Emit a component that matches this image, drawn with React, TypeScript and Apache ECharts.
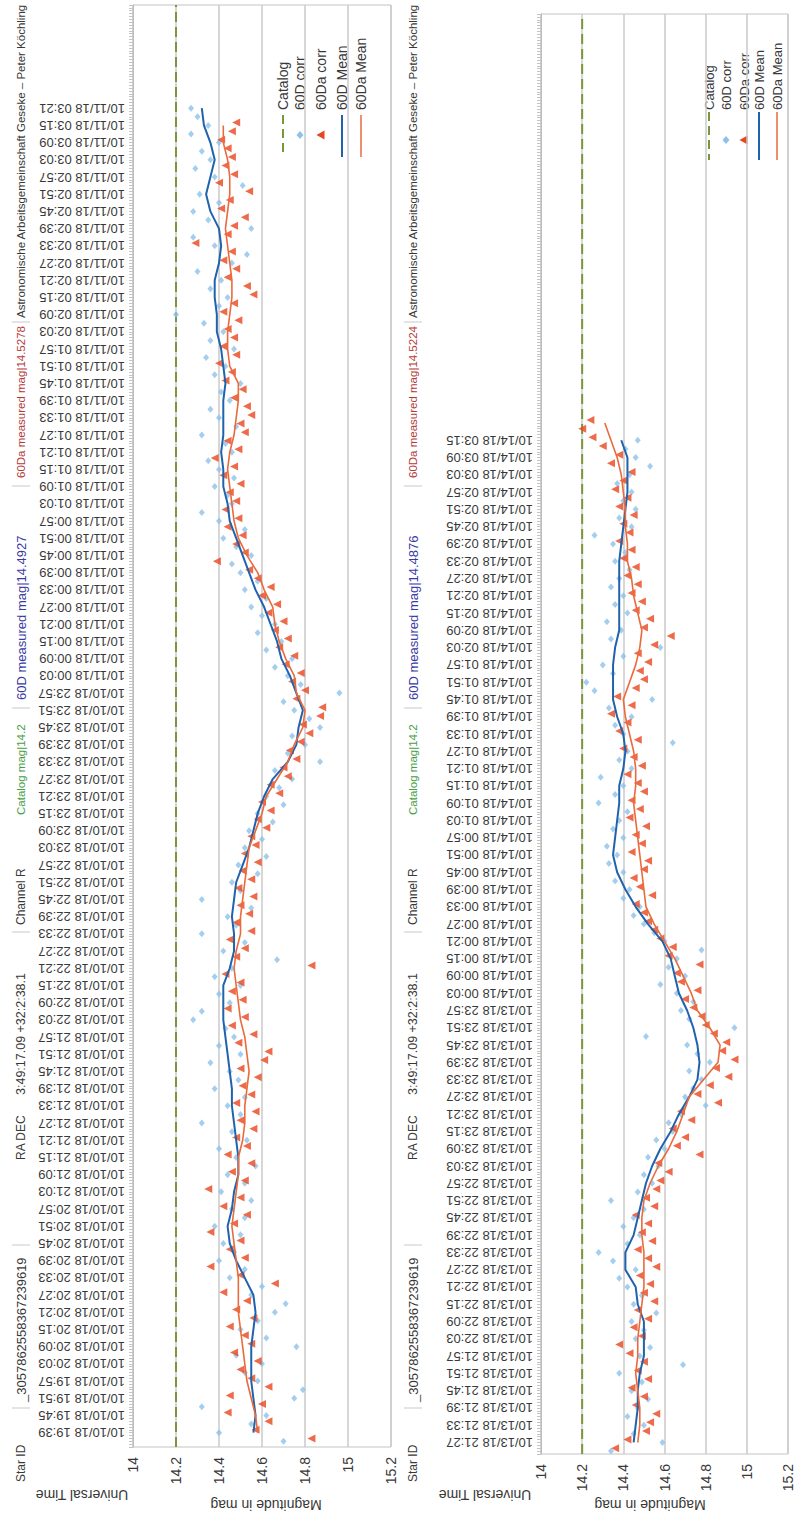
import React, { useEffect, useRef } from "react";
import * as echarts from "echarts";

const FONT = "'Liberation Sans', Arial, Helvetica, sans-serif";

// ---------------- data ----------------
const catalogMag = 14.2;
const legendNames = ["Catalog", "60D corr", "60Da corr", "60D Mean", "60Da Mean"];
const headerTexts1 = [
  "Star ID",
  "_3057862558367239619",
  "RA DEC",
  "3:49:17.09 +32:2:38.1",
  "Channel R",
  "Catalog mag|14.2",
  "60D measured mag|14.4927",
  "60Da measured mag|14.5278",
  "Astronomische Arbeitsgemeinschaft Geseke – Peter Köchling",
];
const headerTexts2 = [
  "Star ID",
  "_3057862558367239619",
  "RA DEC",
  "3:49:17.09 +32:2:38.1",
  "Channel R",
  "Catalog mag|14.2",
  "60D measured mag|14.4876",
  "60Da measured mag|14.5224",
  "Astronomische Arbeitsgemeinschaft Geseke – Peter Köchling",
];
const timeAxisName = "Universal Time";
const magAxisName = "Magnitude in mag";

function makeTimeLabels(month: number, day: number, startMin: number, count: number) {
  const out: string[] = [];
  for (let i = 0; i < count; i++) {
    let m = startMin + i * 6;
    let d = day;
    if (m >= 1440) { m -= 1440; d += 1; }
    const hh = String(Math.floor(m / 60)).padStart(2, "0");
    const mm = String(m % 60).padStart(2, "0");
    out.push(`${month}/${d}/18 ${hh}:${mm}`);
  }
  return out;
}
// chart 1: minutes after 10/10/18 19:39 ; chart 2: minutes after 10/13/18 21:27
const timeLabels1 = makeTimeLabels(10, 10, 19 * 60 + 39, 78);
const timeLabels2 = makeTimeLabels(10, 13, 21 * 60 + 27, 59);

// Chart 1 – 60D corr (every 3 min from t=-3)
const obs60D_1 = [
  14.70, 14.40, 14.55, 14.62, 14.32, 14.75, 14.79, 14.58, 14.52, 14.60,
  14.48, 14.76, 14.62, 14.50, 14.58, 14.66, 14.71, 14.55, 14.60, 14.45,
  14.52, 14.40, 14.47, 14.42, 14.50, 14.38, 14.52, 14.46, 14.55, 14.41,
  14.52, 14.44, 14.57, 14.48, 14.40, 14.53, 14.46, 14.32, 14.50, 14.44,
  14.52, 14.38, 14.49, 14.45, 14.36, 14.50, 14.40, 14.47, 14.43, 14.28,
  14.32, 14.45, 14.40, 14.50, 14.38, 14.46, 14.67, 14.42, 14.52, 14.32,
  14.48, 14.44, 14.55, 14.32, 14.50, 14.46, 14.58, 14.49, 14.62, 14.52,
  14.60, 14.54, 14.65, 14.58, 14.70, 14.62, 14.68, 14.74, 14.66, 14.87,
  14.72, 14.80, 14.74, 14.87, 14.82, 14.75, 14.70, 14.96, 14.78, 14.72,
  14.66, 14.74, 14.62, 14.69, 14.58, 14.66, 14.60, 14.55, 14.62, 14.52,
  14.58, 14.50, 14.46, 14.55, 14.48, 14.42, 14.52, 14.40, 14.32, 14.46,
  14.44, 14.38, 14.47, 14.40, 14.35, 14.46, 14.43, 14.32, 14.48, 14.40,
  14.36, 14.45, 14.41, 14.50, 14.38, 14.43, 14.34, 14.47, 14.36, 14.42,
  14.33, 14.20, 14.40, 14.44, 14.36, 14.41, 14.30, 14.46, 14.53, 14.38,
  14.28, 14.55, 14.35, 14.28, 14.40, 14.31, 14.51, 14.38, 14.29, 14.36,
  14.32, 14.40, 14.27, 14.35, 14.30, 14.27,
];
// Chart 1 – 60Da corr (every 3 min from t=-2)
const obs60Da_1 = [
  14.83, 14.57, 14.63, 14.44, 14.60, 14.45, 14.63, 14.55, 14.50, 14.58,
  14.47, 14.55, 14.52, 14.45, 14.56, 14.48, 14.53, 14.42, 14.66, 14.50,
  14.36, 14.52, 14.45, 14.50, 14.36, 14.47, 14.53, 14.42, 14.50, 14.35,
  14.52, 14.46, 14.55, 14.44, 14.53, 14.48, 14.56, 14.50, 14.57, 14.48,
  14.55, 14.51, 14.58, 14.50, 14.61, 14.63, 14.49, 14.56, 14.46, 14.52,
  14.44, 14.51, 14.46, 14.50, 14.43, 14.83, 14.48, 14.52, 14.45, 14.55,
  14.48, 14.54, 14.50, 14.56, 14.49, 14.55, 14.51, 14.58, 14.52, 14.57,
  14.55, 14.62, 14.58, 14.64, 14.60, 14.68, 14.64, 14.72, 14.70, 14.76,
  14.73, 14.78, 14.82, 14.79, 14.87, 14.88, 14.76, 14.80, 14.74, 14.78,
  14.71, 14.75, 14.68, 14.72, 14.66, 14.70, 14.63, 14.67, 14.60, 14.64,
  14.58, 14.54, 14.39, 14.52, 14.48, 14.51, 14.44, 14.49, 14.43, 14.48,
  14.45, 14.50, 14.42, 14.47, 14.38, 14.49, 14.44, 14.52, 14.50, 14.55,
  14.53, 14.47, 14.51, 14.43, 14.46, 14.40, 14.48, 14.42, 14.47, 14.44,
  14.49, 14.42, 14.47, 14.56, 14.53, 14.44, 14.48, 14.42, 14.46, 14.29,
  14.44, 14.47, 14.52, 14.41, 14.45, 14.54, 14.40, 14.47, 14.43, 14.46,
  14.44, 14.41, 14.46, 14.48,
];
// Chart 1 – running means (every 6 min from t=0)
const mean60D_1 = [
  14.56, 14.57, 14.56, 14.55, 14.55, 14.55, 14.56, 14.57, 14.56, 14.52,
  14.48, 14.45, 14.44, 14.46, 14.47, 14.49, 14.49, 14.48, 14.47, 14.46,
  14.46, 14.45, 14.44, 14.43, 14.42, 14.42, 14.42, 14.45, 14.47, 14.47,
  14.46, 14.47, 14.48, 14.51, 14.54, 14.56, 14.58, 14.61, 14.65, 14.72,
  14.76, 14.77, 14.79, 14.76, 14.73, 14.69, 14.67, 14.64, 14.61, 14.57,
  14.54, 14.51, 14.48, 14.45, 14.44, 14.42, 14.42, 14.41, 14.42, 14.42,
  14.42, 14.43, 14.42, 14.41, 14.39, 14.39, 14.38, 14.38, 14.40, 14.41,
  14.40, 14.36, 14.34, 14.36, 14.38, 14.36, 14.33, 14.32,
];
const mean60Da_1 = [
  14.58, 14.57, 14.55, 14.53, 14.52, 14.51, 14.50, 14.49, 14.49, 14.49,
  14.48, 14.47, 14.46, 14.47, 14.48, 14.49, 14.49, 14.51, 14.52, 14.52,
  14.53, 14.54, 14.53, 14.52, 14.50, 14.49, 14.48, 14.47, 14.48, 14.50,
  14.50, 14.51, 14.52, 14.53, 14.54, 14.57, 14.60, 14.62, 14.67, 14.72,
  14.75, 14.79, 14.80, 14.76, 14.75, 14.71, 14.68, 14.66, 14.65, 14.61,
  14.58, 14.53, 14.49, 14.47, 14.46, 14.45, 14.44, 14.45, 14.47, 14.48,
  14.49, 14.49, 14.45, 14.44, 14.44, 14.45, 14.46, 14.46, 14.45, 14.44,
  14.43, 14.44, 14.45, 14.45, 14.44, 14.42, 14.42,
];

// Chart 2 – 60D corr (every 3 min from t=-3)
const obs60D_2 = [
  14.34, 14.59, 14.45, 14.50, 14.42, 14.47, 14.52, 14.44, 14.49, 14.38,
  14.69, 14.48, 14.53, 14.46, 14.50, 14.44, 14.56, 14.45, 14.49, 14.42,
  14.38, 14.46, 14.35, 14.28, 14.42, 14.48, 14.40, 14.45, 14.50, 14.34,
  14.47, 14.54, 14.50, 14.57, 14.52, 14.60, 14.56, 14.64, 14.62, 14.68,
  14.80, 14.70, 14.74, 14.78, 14.72, 14.82, 14.76, 14.71, 14.51, 14.94,
  14.72, 14.68, 14.74, 14.66, 14.58, 14.70, 14.62, 14.66, 14.78, 14.60,
  14.55, 14.50, 14.45, 14.48, 14.40, 14.43, 14.36, 14.40, 14.33, 14.37,
  14.32, 14.40, 14.35, 14.38, 14.42, 14.28, 14.36, 14.40, 14.29, 14.44,
  14.38, 14.42, 14.64, 14.40, 14.36, 14.44, 14.33, 14.54, 14.26, 14.22,
  14.35, 14.30, 14.40, 14.58, 14.34, 14.39, 14.32, 14.42, 14.36, 14.40,
  14.34, 14.38, 14.43, 14.36, 14.41, 14.35, 14.26, 14.44, 14.38, 14.46,
  14.40, 14.44, 14.37, 14.43, 14.53, 14.46, 14.41, 14.47,
];
// Chart 2 – 60Da corr (every 3 min from t=-2)
const obs60Da_2 = [
  14.36, 14.42, 14.51, 14.53, 14.56, 14.46, 14.50, 14.44, 14.52, 14.47,
  14.50, 14.43, 14.38, 14.49, 14.45, 14.52, 14.47, 14.55, 14.50, 14.53,
  14.48, 14.56, 14.52, 14.47, 14.54, 14.49, 14.52, 14.46, 14.55, 14.51,
  14.56, 14.58, 14.62, 14.57, 14.77, 14.66, 14.70, 14.64, 14.73, 14.68,
  14.86, 14.76, 14.82, 14.91, 14.85, 14.94, 14.88, 14.90, 14.84, 14.80,
  14.78, 14.74, 14.70, 14.76, 14.68, 14.66, 14.77, 14.62, 14.64, 14.58,
  14.55, 14.52, 14.50, 14.46, 14.54, 14.48, 14.45, 14.50, 14.52, 14.44,
  14.49, 14.46, 14.51, 14.43, 14.48, 14.44, 14.50, 14.47, 14.42, 14.49,
  14.45, 14.40, 14.47, 14.38, 14.42, 14.34, 14.44, 14.37, 14.46, 14.50,
  14.48, 14.52, 14.47, 14.55, 14.63, 14.50, 14.53, 14.46, 14.49, 14.44,
  14.47, 14.42, 14.46, 14.40, 14.44, 14.38, 14.43, 14.40, 14.45, 14.38,
  14.42, 14.36, 14.40, 14.44, 14.34, 14.38, 14.30, 14.25, 14.20, 14.24,
];
const mean60D_2 = [
  14.45, 14.46, 14.47, 14.47, 14.48, 14.50, 14.50, 14.50, 14.47, 14.46,
  14.41, 14.41, 14.45, 14.47, 14.49, 14.51, 14.54, 14.58, 14.63, 14.67,
  14.72, 14.76, 14.77, 14.76, 14.74, 14.71, 14.67, 14.65, 14.63, 14.59,
  14.52, 14.46, 14.41, 14.37, 14.35, 14.36, 14.37, 14.38, 14.38, 14.40,
  14.41, 14.40, 14.37, 14.35, 14.35, 14.35, 14.36, 14.38, 14.38, 14.38,
  14.38, 14.38, 14.39, 14.40, 14.41, 14.42, 14.42, 14.42, 14.39,
];
const mean60Da_2 = [
  14.47, 14.48, 14.48, 14.47, 14.46, 14.47, 14.47, 14.48, 14.49, 14.50,
  14.50, 14.50, 14.49, 14.49, 14.50, 14.53, 14.57, 14.62, 14.66, 14.69,
  14.72, 14.79, 14.86, 14.87, 14.82, 14.76, 14.73, 14.69, 14.65, 14.60,
  14.55, 14.51, 14.50, 14.49, 14.48, 14.47, 14.46, 14.45, 14.46, 14.46,
  14.45, 14.43, 14.41, 14.40, 14.43, 14.46, 14.48, 14.49, 14.47, 14.45,
  14.44, 14.42, 14.42, 14.41, 14.41, 14.40, 14.39, 14.37, 14.34, 14.31,
];

// ---------------- helpers ----------------
const pts = (vals: number[], t0: number, step: number) => vals.map((v, i) => [v, t0 + i * step]);
const range = (a: number, b: number) => Array.from({ length: b - a + 1 }, (_, i) => a + i);

const C_CAT = "#78973a";
const C_60D = "#8ec2ea";
const C_60DA = "#e8461e";
const C_60D_MEAN = "#2063ad";
const C_60DA_MEAN = "#ea6a3c";
const TXT = "#383838";

interface Panel {
  grid: any;
  tMin: number;
  tMax: number;
  labels: string[];
  o60D: number[];
  o60Da: number[];
  m60D: number[];
  m60Da: number[];
}

const panels: Panel[] = [
  { grid: { left: 133, right: 405, top: 5, bottom: 71 }, tMin: -5, tMax: 498, labels: timeLabels1, o60D: obs60D_1, o60Da: obs60Da_1, m60D: mean60D_1, m60Da: mean60Da_1 },
  { grid: { left: 541, right: 8, top: 14, bottom: 64 }, tMin: -4, tMax: 496, labels: timeLabels2, o60D: obs60D_2, o60Da: obs60Da_2, m60D: mean60D_2, m60Da: mean60Da_2 },
];

function vText(x: number, y: number, text: string, fontSize: number, fill = TXT) {
  return {
    type: "text", x, y, rotation: Math.PI / 2, silent: true,
    style: { text, fontSize, fill, fontFamily: FONT, align: "left", verticalAlign: "middle" },
  };
}
function flipText(x: number, y: number, text: string, fontSize: number) {
  return {
    type: "text", x, y, rotation: Math.PI, silent: true,
    style: { text, fontSize, fill: TXT, fontFamily: FONT, align: "center", verticalAlign: "middle" },
  };
}
function sep(x: number, y: number) {
  return { type: "line", silent: true, shape: { x1: x - 9, y1: y, x2: x + 9, y2: y }, style: { stroke: "#c9c9c9", lineWidth: 1 } };
}

function headerGraphics(x: number, texts: string[]) {
  const starts = [1482, 1402, 1160, 1095, 925, 815, 700, 478, 318];
  const sizes = [12, 13, 12, 12.5, 12, 11.5, 13, 11.5, 11.5];
  const colors = [TXT, TXT, TXT, TXT, TXT, "#45a045", "#3a3aa6", "#b53a3a", TXT];
  const els: any[] = texts.map((t, i) => vText(x, starts[i], t, sizes[i], colors[i]));
  [1408, 1245, 932, 708, 486, 322].forEach((y) => els.push(sep(x, y)));
  return els;
}

function legendGraphics(xs: number[], yText: number, k1: number, k2: number, km: number, fs: number) {
  const els: any[] = legendNames.map((n, i) => vText(xs[i], yText, n, fs));
  els.push({ type: "line", silent: true, shape: { x1: xs[0], y1: k1, x2: xs[0], y2: k2 }, style: { stroke: C_CAT, lineWidth: 2, lineDash: [9, 5] } });
  const dx = xs[1], tx = xs[2];
  els.push({ type: "polygon", silent: true, shape: { points: [[dx, km - 4], [dx + 3.5, km], [dx, km + 4], [dx - 3.5, km]] }, style: { fill: C_60D } });
  els.push({ type: "polygon", silent: true, shape: { points: [[tx - 4.5, km], [tx + 3.5, km - 4.5], [tx + 3.5, km + 4.5]] }, style: { fill: C_60DA } });
  els.push({ type: "line", silent: true, shape: { x1: xs[3], y1: k1, x2: xs[3], y2: k2 }, style: { stroke: C_60D_MEAN, lineWidth: 2 } });
  els.push({ type: "line", silent: true, shape: { x1: xs[4], y1: k1, x2: xs[4], y2: k2 }, style: { stroke: C_60DA_MEAN, lineWidth: 1.5 } });
  return els;
}

function buildOption() {
  const grid = panels.map((p) => ({
    ...p.grid, show: true, borderColor: "#c4c4c4", borderWidth: 1, backgroundColor: "#fff",
    containLabel: false, outerBoundsMode: "none",
  }));
  const xAxis = panels.map((_, i) => ({
    type: "value", gridIndex: i, min: 14, max: 15.2, interval: 0.2, position: "bottom",
    axisLine: { show: false }, axisTick: { show: false },
    splitLine: { show: true, lineStyle: { color: "#cacaca", width: 1.5 } },
    axisLabel: {
      rotate: 90, fontSize: 14, color: TXT, margin: 10, fontFamily: FONT,
      formatter: (v: number) => String(+v.toFixed(1)),
    },
  }));
  const yAxis = panels.map((p, i) => ({
    type: "value", gridIndex: i, min: p.tMin, max: p.tMax, position: "left",
    axisLine: { show: true, lineStyle: { color: "#bcbcbc", width: 1 } },
    axisTick: { show: true, customValues: range(p.tMin, p.tMax), length: 4, inside: false, lineStyle: { color: "#c4c4c4", width: 1 } },
    axisLabel: {
      customValues: p.labels.map((_, k) => k * 6), rotate: 180, fontSize: 13, color: TXT, margin: 8, fontFamily: FONT,
      formatter: (v: number) => p.labels[Math.round(v / 6)] ?? "",
    },
    splitLine: { show: false },
  }));
  const series: any[] = [];
  panels.forEach((p, i) => {
    series.push({
      name: legendNames[0], type: "line", xAxisIndex: i, yAxisIndex: i, silent: true, symbol: "none",
      data: [[catalogMag, p.tMin], [catalogMag, p.tMax]],
      lineStyle: { color: C_CAT, width: 2, type: [10, 5] }, z: 2,
    });
    series.push({
      name: legendNames[1], type: "scatter", xAxisIndex: i, yAxisIndex: i, silent: true,
      symbol: "diamond", symbolSize: [6, 7], itemStyle: { color: C_60D }, data: pts(p.o60D, -3, 3), z: 3,
    });
    series.push({
      name: legendNames[2], type: "scatter", xAxisIndex: i, yAxisIndex: i, silent: true,
      symbol: "triangle", symbolRotate: 90, symbolSize: 8, itemStyle: { color: C_60DA }, data: pts(p.o60Da, -2, 3), z: 4,
    });
    series.push({
      name: legendNames[3], type: "line", xAxisIndex: i, yAxisIndex: i, silent: true, symbol: "none",
      lineStyle: { color: C_60D_MEAN, width: 2 }, data: pts(p.m60D, 0, 6), z: 5,
    });
    series.push({
      name: legendNames[4], type: "line", xAxisIndex: i, yAxisIndex: i, silent: true, symbol: "none",
      lineStyle: { color: C_60DA_MEAN, width: 1.6 }, data: pts(p.m60Da, 0, 6), z: 6,
    });
  });

  const graphic: any[] = [
    ...headerGraphics(21, headerTexts1),
    ...headerGraphics(413, headerTexts2),
    ...legendGraphics([283, 300, 321, 342, 361], 110, 115, 157, 135, 14),
    ...legendGraphics([709, 726, 744, 759, 777], 110, 112, 160, 140, 13),
    flipText(82, 1495, timeAxisName, 14),
    flipText(266, 1505, magAxisName, 14),
    flipText(485, 1495, timeAxisName, 14),
    flipText(650, 1505, magAxisName, 14),
  ];

  return {
    animation: false,
    backgroundColor: "#fff",
    textStyle: { fontFamily: FONT },
    grid, xAxis, yAxis, series, graphic,
  };
}

export default function App() {
  const ref = useRef<HTMLDivElement>(null);
  useEffect(() => {
    if (!ref.current) return;
    const chart = echarts.init(ref.current, null, { renderer: "svg" });
    chart.setOption(buildOption() as any);
    return () => chart.dispose();
  }, []);
  return (
    <div
      ref={ref}
      style={{ position: "absolute", left: 0, top: 0, width: 796, height: 1518, background: "#fff" }}
    />
  );
}
